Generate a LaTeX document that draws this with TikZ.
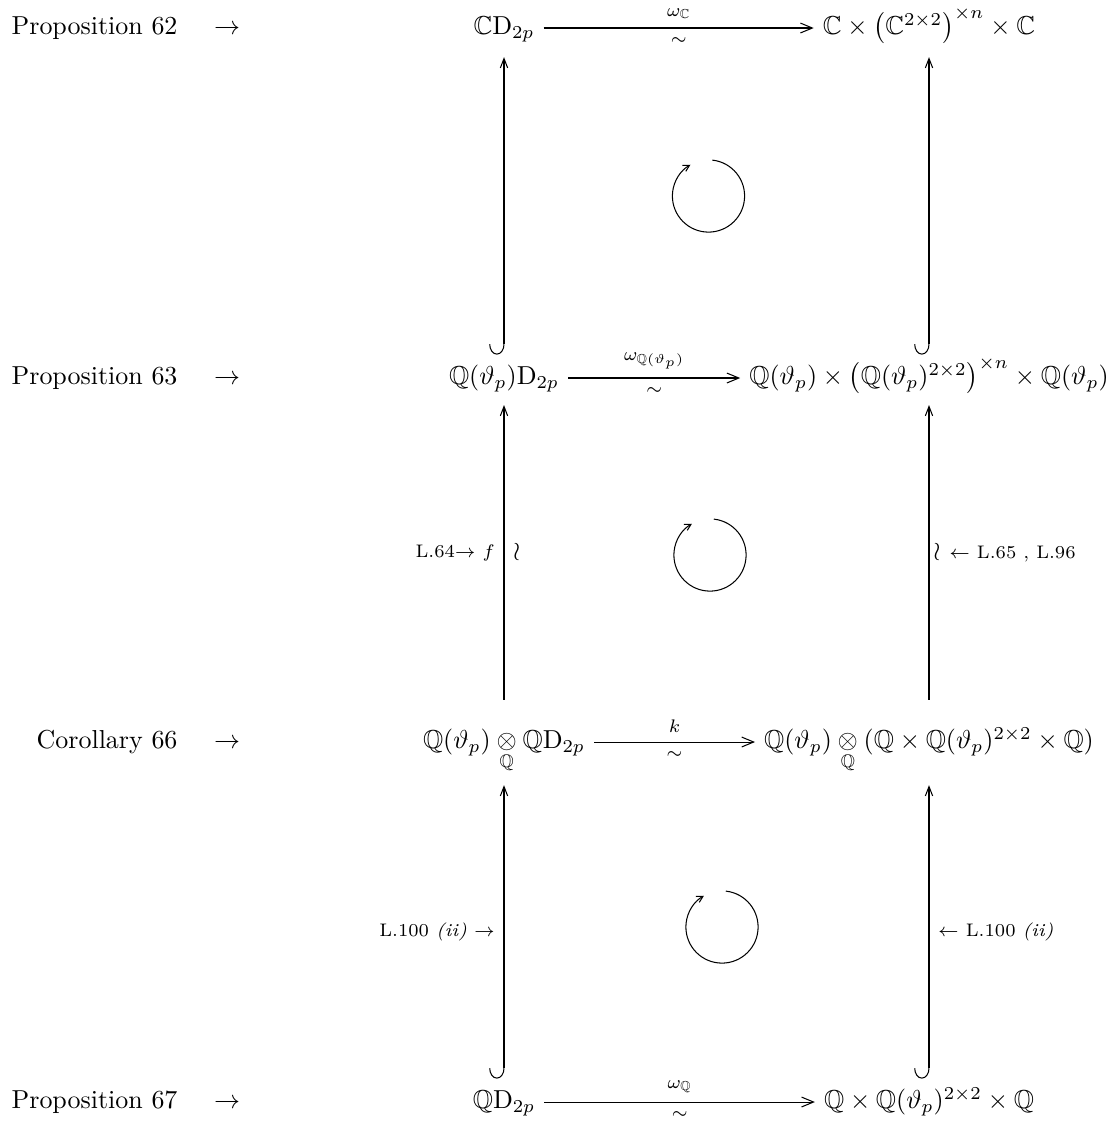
\documentclass[tikz,border=0pt]{standalone}
\usepackage{amsmath,amssymb}
\usetikzlibrary{arrows.meta}

\tikzset{
    obj/.style={anchor=base, inner sep=3.33pt},
    lbl/.style={font=\scriptsize},
    refname/.style={anchor=base east, inner sep=0pt},
    reftip/.style={anchor=base, inner sep=0pt},
    iso/.style={-{Straight Barb[length=4.6pt,width=3.8pt]}},
    upmap/.style={-{Straight Barb[length=3.6pt,width=2.8pt]}},
    incl/.style={{Hooks[right,length=4pt,width=11.4pt]}-{Straight Barb[length=3.6pt,width=2.8pt]}},
    turn/.style={-{Straight Barb[length=2.4pt,width=2.6pt]}}
}

\begin{document}
\begin{tikzpicture}[x=0.385pt, y=-0.385pt]
    \useasboundingbox (0,0) rectangle (1113,1121);

    \node[refname] (p62) at (178,34.5) {Proposition 62};
    \node[reftip] (p62t) at (227,34.5) {$\rightarrow$};
    \node[refname] (p63) at (178,384.5) {Proposition 63};
    \node[reftip] (p63t) at (227,384.5) {$\rightarrow$};
    \node[refname] (c66) at (178,748.5) {Corollary 66};
    \node[reftip] (c66t) at (227,748.5) {$\rightarrow$};
    \node[refname] (p67) at (178,1108.5) {Proposition 67};
    \node[reftip] (p67t) at (227,1108.5) {$\rightarrow$};

    \node[obj] (cd) at (504,34.5) {$\mathbb{C}\mathrm{D}_{2p}$};
    \node[obj] (cprod) at (929,34.5)
        {$\mathbb{C}\times\bigl(\mathbb{C}^{2\times2}\bigr)^{\times n}\times\mathbb{C}$};
    \node[obj] (qtd) at (504,384.5) {$\mathbb{Q}(\vartheta_p)\mathrm{D}_{2p}$};
    \node[obj] (qtprod) at (929,384.5)
        {$\mathbb{Q}(\vartheta_p)\times\bigl(\mathbb{Q}(\vartheta_p)^{2\times2}\bigr)^{\times n}\times\mathbb{Q}(\vartheta_p)$};
    \node[obj] (tens) at (504,748.5)
        {$\mathbb{Q}(\vartheta_p)\underset{\mathbb{Q}}{\otimes}\mathbb{Q}\mathrm{D}_{2p}$};
    \node[obj] (tensprod) at (929,748.5)
        {$\mathbb{Q}(\vartheta_p)\underset{\mathbb{Q}}{\otimes}(\mathbb{Q}\times\mathbb{Q}(\vartheta_p)^{2\times2}\times\mathbb{Q})$};
    \node[obj] (qd) at (504,1108.5) {$\mathbb{Q}\mathrm{D}_{2p}$};
    \node[obj] (qprod) at (929,1108.5)
        {$\mathbb{Q}\times\mathbb{Q}(\vartheta_p)^{2\times2}\times\mathbb{Q}$};

    \draw[iso] ([yshift=2.5pt]cd.base east) -- ([yshift=2.5pt]cprod.base west)
        node[midway, above, lbl] {$\omega_{\mathbb{C}}$}
        node[midway, below, lbl] {$\sim$};
    \draw[iso] ([yshift=2.5pt]qtd.base east) -- ([yshift=2.5pt]qtprod.base west)
        node[midway, above, lbl] {$\omega_{\mathbb{Q}(\vartheta_p)}$}
        node[midway, below, lbl] {$\sim$};
    \draw[iso] ([yshift=2.5pt]tens.base east) -- ([yshift=2.5pt]tensprod.base west)
        node[midway, above, lbl] {$k$}
        node[midway, below, lbl] {$\sim$};
    \draw[iso] ([yshift=2.5pt]qd.base east) -- ([yshift=2.5pt]qprod.base west)
        node[midway, above, lbl] {$\omega_{\mathbb{Q}}$}
        node[midway, below, lbl] {$\sim$};

    \draw[incl] ([yshift=11.5pt]qtd.base) -- ([yshift=-8.7pt]cd.base);
    \draw[incl] ([yshift=11.5pt]qtprod.base) -- ([yshift=-8.7pt]cprod.base);
    \draw[upmap] ([yshift=18.7pt]tens.base) -- ([yshift=-7.9pt]qtd.base)
        node[midway, left, lbl] {L.64$\rightarrow$ $f$}
        node[midway, right] {$\wr$};
    \draw[upmap] ([yshift=18.7pt]tensprod.base) -- ([yshift=-7.9pt]qtprod.base)
        node[midway, right, inner sep=1.5pt] {$\wr$ {\scriptsize$\leftarrow$ L.65 , L.96}};
    \draw[incl] ([yshift=11.5pt]qd.base) -- ([yshift=-14.1pt]tens.base)
        node[midway, left, lbl] {L.100 \textit{(ii)} $\rightarrow$};
    \draw[incl] ([yshift=11.5pt]qprod.base) -- ([yshift=-14.1pt]tensprod.base)
        node[midway, right, lbl] {$\leftarrow$ L.100 \textit{(ii)}};

    \draw[turn] ([shift={(84:13.9pt)}]708.5,196) arc[start angle=84, end angle=-240, radius=13.9pt];
    \draw[turn] ([shift={(84:13.9pt)}]710,555) arc[start angle=84, end angle=-240, radius=13.9pt];
    \draw[turn] ([shift={(84:13.9pt)}]722,927) arc[start angle=84, end angle=-240, radius=13.9pt];
\end{tikzpicture}
\end{document}
